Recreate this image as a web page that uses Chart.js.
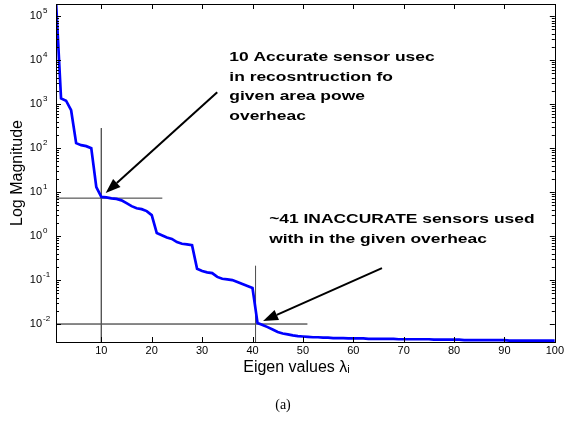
<!DOCTYPE html>
<html>
<head>
<meta charset="utf-8">
<script src="https://cdn.jsdelivr.net/npm/chart.js@4"></script>
<style>
  body { margin: 0; background: #fff; }
  #wrap { width: 566px; height: 424px; }
</style>
</head>
<body>
<div id="wrap"><canvas id="eigChart" width="566" height="424"></canvas></div>
<script>
// eigen value index (categories)
const eigIndex = Array.from({ length: 100 }, (_, k) => k + 1);

// log magnitude
const magnitude = [
  2.2e5, 1350, 1200, 730, 130, 117, 111, 100, 13, 7.8,
  7.6, 7.2, 7.0, 6.5, 5.6, 4.8, 4.3, 4.1, 3.7, 3.0,
  1.17, 1.05, 0.93, 0.86, 0.73, 0.67, 0.65, 0.62, 0.18, 0.16,
  0.15, 0.144, 0.118, 0.107, 0.104, 0.10, 0.09, 0.081, 0.073, 0.066,
  0.0105, 0.0095, 0.0085, 0.0075, 0.0066, 0.0061, 0.0058, 0.0055, 0.0053, 0.0052,
  0.0051, 0.0050, 0.0050, 0.0049, 0.0049, 0.0048, 0.0048, 0.0048, 0.0047, 0.0047,
  0.0047, 0.0047, 0.0046, 0.0046, 0.0046, 0.0046, 0.0046, 0.0046, 0.0045, 0.0045,
  0.0045, 0.0045, 0.0045, 0.0045, 0.0045, 0.0044, 0.0044, 0.0044, 0.0044, 0.0044,
  0.0044, 0.0043, 0.0043, 0.0043, 0.0043, 0.0043, 0.0043, 0.0043, 0.0043, 0.0043,
  0.0042, 0.0042, 0.0042, 0.0042, 0.0042, 0.0042, 0.0042, 0.0042, 0.0042, 0.0042
];

const xTicks = [10, 20, 30, 40, 50, 60, 70, 80, 90, 100];
const yExponents = [-2, -1, 0, 1, 2, 3, 4, 5];

// marker lines (data units)
const accurateV = [{ x: 10, y: 285 }, { x: 10, y: 0.0039 }];
const accurateH = [{ x: 1, y: 7.3 }, { x: 22.1, y: 7.3 }];
const inaccurateV = [{ x: 40.6, y: 0.21 }, { x: 40.6, y: 0.0039 }];
const inaccurateH = [{ x: 1, y: 0.01 }, { x: 50.9, y: 0.01 }];

// arrows: tail -> head
const arrows = [
  { from: [33.0, 1870], to: [10.86, 9.5] },
  { from: [65.7, 0.187], to: [42.1, 0.0117] }
];

const notes = [
  { x: 35.4, y: 9640, lines: ['10 Accurate sensor usec', 'in recosntruction fo', 'given area powe', 'overheac'] },
  { x: 43.3, y: 1.97, lines: ['~41 INACCURATE sensors used', 'with in the given overheac'] }
];

const series = eigIndex.map((i, k) => ({ x: i, y: magnitude[k] }));
const tickFont = '"Liberation Sans Narrow", "Arial Narrow", "Liberation Sans", sans-serif';

function markLine(data, color) {
  return { data, borderColor: color, borderWidth: 1, pointRadius: 0, fill: false };
}

const boxPlugin = {
  id: 'boxPlugin',
  afterDatasetsDraw(chart) {
    const ctx = chart.ctx;
    const a = chart.chartArea;
    const xs = chart.scales.x, ys = chart.scales.y;
    ctx.save();
    ctx.strokeStyle = '#000';
    ctx.lineWidth = 1;
    ctx.strokeRect(Math.round(a.left) + 0.5, Math.round(a.top) + 0.5,
      Math.round(a.right - a.left), Math.round(a.bottom - a.top));

    ctx.beginPath();
    xTicks.forEach(v => {
      const px = Math.round(xs.getPixelForValue(v)) + 0.5;
      ctx.moveTo(px, a.bottom); ctx.lineTo(px, a.bottom - 5);
      ctx.moveTo(px, a.top); ctx.lineTo(px, a.top + 5);
    });
    yExponents.forEach(e => {
      for (let m = 1; m <= 9; m++) {
        const v = m * Math.pow(10, e);
        if (v < ys.min || v > ys.max) continue;
        const py = Math.round(ys.getPixelForValue(v)) + 0.5;
        const len = m === 1 ? 5 : 3;
        ctx.moveTo(a.left, py); ctx.lineTo(a.left + len, py);
        ctx.moveTo(a.right, py); ctx.lineTo(a.right - len, py);
      }
    });
    ctx.stroke();

    // y tick labels 10^e
    ctx.fillStyle = '#000';
    ctx.textBaseline = 'middle';
    yExponents.forEach(e => {
      const py = ys.getPixelForValue(Math.pow(10, e));
      ctx.font = '11px ' + tickFont;
      ctx.textAlign = 'right';
      ctx.fillText('10', 42, py);
      ctx.font = '8px ' + tickFont;
      ctx.textAlign = 'left';
      ctx.fillText(String(e), 43, py - 5);
    });

    // arrows
    ctx.strokeStyle = '#000';
    ctx.fillStyle = '#000';
    ctx.lineWidth = 2;
    arrows.forEach(ar => {
      const x0 = xs.getPixelForValue(ar.from[0]), y0 = ys.getPixelForValue(ar.from[1]);
      const x1 = xs.getPixelForValue(ar.to[0]), y1 = ys.getPixelForValue(ar.to[1]);
      const ang = Math.atan2(y1 - y0, x1 - x0);
      const hl = 15, hw = 5.5;
      const bx = x1 - hl * Math.cos(ang), by = y1 - hl * Math.sin(ang);
      ctx.beginPath();
      ctx.moveTo(x0, y0); ctx.lineTo(bx, by);
      ctx.stroke();
      ctx.beginPath();
      ctx.moveTo(x1, y1);
      ctx.lineTo(bx + hw * Math.sin(ang), by - hw * Math.cos(ang));
      ctx.lineTo(bx - hw * Math.sin(ang), by + hw * Math.cos(ang));
      ctx.closePath();
      ctx.fill();
    });

    // annotation text
    ctx.font = 'bold 13px "Liberation Sans", Arial, sans-serif';
    ctx.textAlign = 'left';
    ctx.textBaseline = 'alphabetic';
    notes.forEach(n => {
      const px = xs.getPixelForValue(n.x), py = ys.getPixelForValue(n.y);
      n.lines.forEach((t, k) => {
        ctx.save();
        ctx.translate(px, py + k * 19.6);
        ctx.scale(1.34, 1);
        ctx.fillText(t, 0, 0);
        ctx.restore();
      });
    });

    // caption
    ctx.font = '14px "Liberation Serif", "Times New Roman", serif';
    ctx.textAlign = 'center';
    ctx.textBaseline = 'middle';
    ctx.fillText('(a)', 283, 405);
    ctx.restore();
  }
};

new Chart(document.getElementById('eigChart').getContext('2d'), {
  type: 'line',
  data: {
    datasets: [
      { data: series, borderColor: '#0000ff', borderWidth: 2.7, pointRadius: 0, fill: false, tension: 0 },
      markLine(accurateV, '#555'),
      markLine(accurateH, '#333'),
      markLine(inaccurateV, '#555'),
      markLine(inaccurateH, '#111')
    ]
  },
  options: {
    responsive: false,
    animation: false,
    events: [],
    layout: { padding: { left: 0, right: 10, top: 4, bottom: 37 } },
    plugins: { legend: { display: false }, tooltip: { enabled: false } },
    scales: {
      x: {
        type: 'linear',
        min: 1,
        max: 100,
        afterBuildTicks: s => { s.ticks = xTicks.map(v => ({ value: v })); },
        afterFit: s => { s.height = 45; },
        grid: { display: false, tickLength: 0 },
        border: { display: false },
        ticks: { color: '#000', font: { family: tickFont, size: 11 }, padding: 2, maxRotation: 0 },
        title: { display: true, text: 'Eigen values λᵢ    ', color: '#000', padding: 10,
          font: { family: '"Liberation Sans", Arial, sans-serif', size: 16 } }
      },
      y: {
        type: 'logarithmic',
        min: 0.0039,
        max: 1.9e5,
        afterFit: s => { s.width = 56; },
        grid: { display: false },
        border: { display: false },
        ticks: { display: false },
        title: { display: true, text: 'Log Magnitude', color: '#000', padding: 8,
          font: { family: '"Liberation Sans", Arial, sans-serif', size: 16 } }
      }
    }
  },
  plugins: [boxPlugin]
});
</script>
</body>
</html>
